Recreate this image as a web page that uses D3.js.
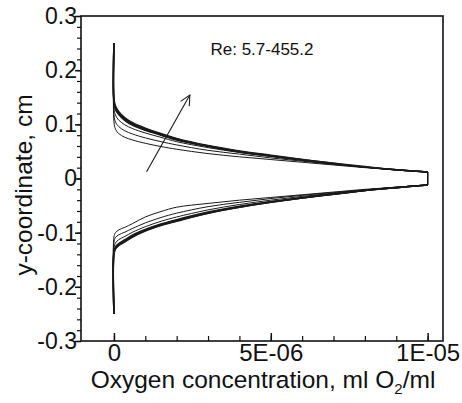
<!DOCTYPE html>
<html lang="en">
<head>
<meta charset="utf-8">
<script src="https://cdn.jsdelivr.net/npm/d3@7/dist/d3.min.js"></script>
<style>
  body { margin: 0; background: #fff; }
  text { font-family: "Liberation Sans", Arial, sans-serif; fill: #111; }
</style>
</head>
<body>
<svg width="462" height="403"></svg>
<script>
// concentration grid (ml O2/ml); first two points are both at 0 (wall segment)
var conc = [0, 0, 0.05e-6, 0.15e-6, 0.35e-6, 0.6e-6, 1.0e-6, 1.5e-6, 2.0e-6,
            3.0e-6, 4.0e-6, 5.0e-6, 6.0e-6, 7.0e-6, 8.0e-6, 9.0e-6, 1.0e-5];

// upper branch y (cm), one array per Re curve, lowest Re first
var upper1 = [0.25, 0.105, 0.091, 0.083, 0.076, 0.071, 0.065, 0.059, 0.054, 0.046, 0.040, 0.035, 0.030, 0.025, 0.020, 0.016, 0.012];
var upper2 = [0.25, 0.118, 0.104, 0.096, 0.088, 0.082, 0.075, 0.068, 0.062, 0.052, 0.045, 0.038, 0.032, 0.026, 0.021, 0.016, 0.012];
var upper3 = [0.25, 0.130, 0.117, 0.108, 0.099, 0.092, 0.084, 0.076, 0.068, 0.057, 0.048, 0.041, 0.034, 0.027, 0.021, 0.016, 0.012];
var upper4 = [0.25, 0.140, 0.127, 0.118, 0.107, 0.098, 0.089, 0.080, 0.071, 0.059, 0.049, 0.041, 0.034, 0.027, 0.021, 0.016, 0.012];
var upper5 = [0.25, 0.143, 0.130, 0.120, 0.109, 0.100, 0.091, 0.081, 0.072, 0.060, 0.050, 0.042, 0.034, 0.027, 0.021, 0.016, 0.012];
var upper6 = [0.25, 0.145, 0.132, 0.122, 0.111, 0.101, 0.092, 0.082, 0.073, 0.060, 0.050, 0.042, 0.035, 0.028, 0.021, 0.016, 0.012];
var upper7 = [0.25, 0.147, 0.134, 0.124, 0.112, 0.103, 0.093, 0.083, 0.074, 0.061, 0.051, 0.043, 0.035, 0.028, 0.022, 0.016, 0.012];

// lower branch y (cm)
var lower1 = [-0.25, -0.108, -0.100, -0.095, -0.090, -0.083, -0.071, -0.061, -0.053, -0.046, -0.040, -0.035, -0.030, -0.025, -0.020, -0.016, -0.012];
var lower2 = [-0.25, -0.118, -0.109, -0.104, -0.099, -0.092, -0.082, -0.072, -0.064, -0.052, -0.044, -0.037, -0.031, -0.026, -0.021, -0.016, -0.012];
var lower3 = [-0.25, -0.128, -0.119, -0.113, -0.107, -0.099, -0.089, -0.079, -0.071, -0.058, -0.048, -0.040, -0.033, -0.027, -0.021, -0.016, -0.012];
var lower4 = [-0.25, -0.135, -0.126, -0.120, -0.113, -0.104, -0.094, -0.084, -0.076, -0.062, -0.051, -0.043, -0.035, -0.028, -0.022, -0.017, -0.012];
var lower5 = [-0.25, -0.137, -0.128, -0.122, -0.115, -0.106, -0.095, -0.085, -0.077, -0.063, -0.052, -0.043, -0.036, -0.029, -0.022, -0.017, -0.012];
var lower6 = [-0.25, -0.139, -0.129, -0.123, -0.116, -0.107, -0.096, -0.086, -0.078, -0.064, -0.053, -0.044, -0.036, -0.029, -0.022, -0.017, -0.012];
var lower7 = [-0.25, -0.140, -0.130, -0.124, -0.117, -0.108, -0.097, -0.087, -0.079, -0.064, -0.053, -0.044, -0.036, -0.029, -0.022, -0.017, -0.012];

var uppers = [upper1, upper2, upper3, upper4, upper5, upper6, upper7];
var lowers = [lower1, lower2, lower3, lower4, lower5, lower6, lower7];
var lineWidths = [1, 1, 1, 1.5, 1.5, 1.5, 1.5];

var xTicks = [0, 5e-6, 1e-5];
var xTickLabels = ["0", "5E-06", "1E-05"];
var yTicks = [0.3, 0.2, 0.1, 0, -0.1, -0.2, -0.3];
var yTickLabels = ["0.3", "0.2", "0.1", "0", "-0.1", "-0.2", "-0.3"];

var annotation = "Re: 5.7-455.2";
var arrowFrom = [1.04e-6, 0.0125];
var arrowTo = [2.42e-6, 0.154];

var svg = d3.select("svg");
var plotLeft = 81, plotRight = 443, plotTop = 16, plotBottom = 341;

var x = d3.scaleLinear().domain([-1.05e-6, 1.049e-5]).range([plotLeft, plotRight]);
var y = d3.scaleLinear().domain([-0.3, 0.3]).range([plotBottom, plotTop]);

// minor ticks
svg.append("g")
    .attr("transform", "translate(0," + plotBottom + ")")
    .call(d3.axisBottom(x).tickValues(d3.range(0, 11).map(function(i){ return i * 1e-6; }))
        .tickSize(-5).tickFormat(""))
    .call(function(g){ g.select(".domain").remove(); })
    .selectAll("line").attr("stroke", "#111").attr("stroke-width", 1.2);

svg.append("g")
    .attr("transform", "translate(" + plotLeft + ",0)")
    .call(d3.axisLeft(y).tickValues(d3.range(-15, 16).map(function(i){ return i * 0.02; }))
        .tickSize(4).tickFormat(""))
    .call(function(g){ g.select(".domain").remove(); })
    .selectAll("line").attr("stroke", "#111").attr("stroke-width", 1.2);

// major ticks + labels
var xAxis = svg.append("g")
    .attr("transform", "translate(0," + plotBottom + ")")
    .call(d3.axisBottom(x).tickValues(xTicks).tickSize(-8).tickPadding(3)
        .tickFormat(function(d, i){ return xTickLabels[i]; }));
xAxis.select(".domain").remove();
xAxis.selectAll("line").attr("stroke", "#111").attr("stroke-width", 1.5);
xAxis.selectAll("text").attr("font-size", 24).attr("font-family", "Liberation Sans, Arial, sans-serif")
    .attr("fill", "#111");

var yAxis = svg.append("g")
    .attr("transform", "translate(" + plotLeft + ",0)")
    .call(d3.axisLeft(y).tickValues(yTicks).tickSize(6).tickPadding(-2)
        .tickFormat(function(d, i){ return yTickLabels[i]; }));
yAxis.select(".domain").remove();
yAxis.selectAll("line").attr("stroke", "#111").attr("stroke-width", 1.5);
yAxis.selectAll("text").attr("font-size", 23).attr("font-family", "Liberation Sans, Arial, sans-serif")
    .attr("fill", "#111");

// frame
svg.append("rect")
    .attr("x", plotLeft).attr("y", plotTop)
    .attr("width", plotRight - plotLeft).attr("height", plotBottom - plotTop)
    .attr("fill", "none").attr("stroke", "#111").attr("stroke-width", 1.6);

// curves
var line = d3.line()
    .x(function(d){ return x(d[0]); })
    .y(function(d){ return y(d[1]); })
    .curve(d3.curveCatmullRom.alpha(0.5));

var curves = svg.append("g").attr("fill", "none").attr("stroke", "#1a1a1a");

uppers.forEach(function(ys, k) {
    var pts = conc.map(function(c, i){ return [c, ys[i]]; });
    curves.append("path").attr("d", line(pts)).attr("stroke-width", lineWidths[k]);
});
lowers.forEach(function(ys, k) {
    var pts = conc.map(function(c, i){ return [c, ys[i]]; });
    curves.append("path").attr("d", line(pts)).attr("stroke-width", lineWidths[k]);
});
// closing segment at the outlet
uppers.forEach(function(ys, k) {
    var n = conc.length - 1;
    curves.append("line")
        .attr("x1", x(conc[n])).attr("x2", x(conc[n]))
        .attr("y1", y(ys[n])).attr("y2", y(lowers[k][n]))
        .attr("stroke-width", 1);
});

// arrow
svg.append("defs").append("marker")
    .attr("id", "head").attr("viewBox", "0 0 12 12")
    .attr("refX", 11).attr("refY", 6)
    .attr("markerWidth", 12).attr("markerHeight", 12)
    .attr("markerUnits", "userSpaceOnUse")
    .attr("orient", "auto")
    .append("path").attr("d", "M1,1 L11,6 L1,11")
    .attr("fill", "none").attr("stroke", "#1a1a1a").attr("stroke-width", 1.1);

svg.append("line")
    .attr("x1", x(arrowFrom[0])).attr("y1", y(arrowFrom[1]))
    .attr("x2", x(arrowTo[0])).attr("y2", y(arrowTo[1]))
    .attr("stroke", "#1a1a1a").attr("stroke-width", 1.1)
    .attr("marker-end", "url(#head)");

// annotation
svg.append("text")
    .attr("x", 262).attr("y", 55)
    .attr("text-anchor", "middle")
    .attr("font-size", 17)
    .text(annotation);

// axis titles
var xt = svg.append("text")
    .attr("x", 263).attr("y", 388)
    .attr("text-anchor", "middle")
    .attr("font-size", 24.5);
xt.append("tspan").text("Oxygen concentration, ml O");
xt.append("tspan").attr("font-size", 15).attr("dy", 6).text("2");
xt.append("tspan").attr("dy", -6).text("/ml");

svg.append("text")
    .attr("transform", "translate(32,185) rotate(-90)")
    .attr("text-anchor", "middle")
    .attr("font-size", 24.5)
    .text("y-coordinate, cm");
</script>
</body>
</html>
